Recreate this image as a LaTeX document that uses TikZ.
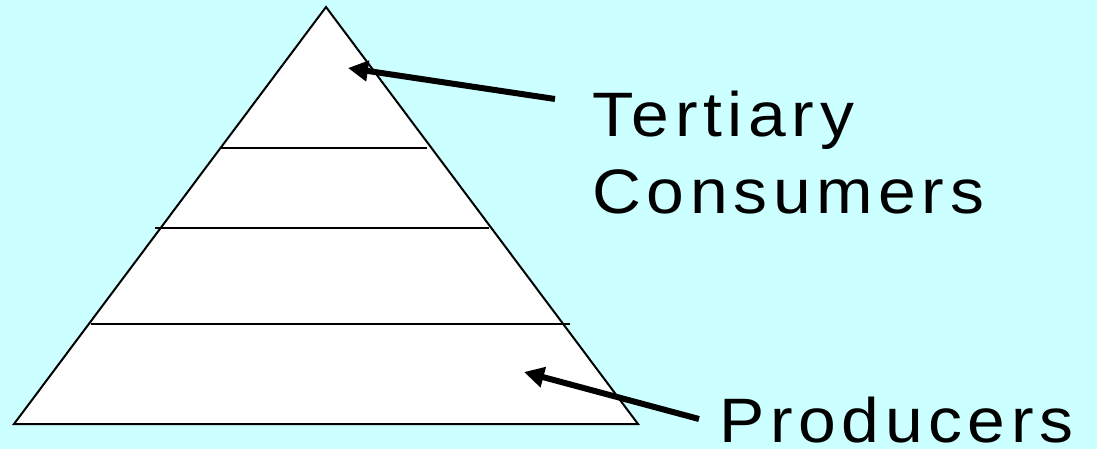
\documentclass[tikz,border=0pt]{standalone}
\usepackage{fontspec}
\setmainfont{Liberation Sans}[FakeStretch=1.08, LetterSpace=9]
\usetikzlibrary{arrows.meta}
\definecolor{skycyan}{HTML}{CCFFFF}
\tikzset{
    level/.style={line width=2pt},
    label/.style={inner sep=0pt, anchor=base west,
        font=\fontsize{62.8}{76}\selectfont},
    pointer/.style={line width=6pt, -{Triangle[length=20pt,width=20pt]}}
}

\begin{document}
\begin{tikzpicture}[x=1pt,y=-1pt]
    \fill[skycyan] (0,0) rectangle (1097,449);
    \useasboundingbox (0,0) rectangle (1097,449);
    % pyramid
    \filldraw[level, fill=white] (326,7) -- (638,424) -- (14,424) -- cycle;
    \draw[level] (220,148) -- (427,148);
    \draw[level] (155,228) -- (489,228);
    \draw[level] (91,324) -- (570,324);
    % labels
    \node[label] (tertiary) at (592,137) {Tertiary};
    \node[label] (consumers) at (592,213) {Consumers};
    \node[label] (producers) at (719,442) {Producers};
    \coordinate (toptail) at (555,99);
    \coordinate (toptip) at (348,68);
    \coordinate (basetail) at (699,419);
    \coordinate (basetip) at (524,372);
    \draw[pointer] (toptail) -- (toptip);
    \draw[pointer] (basetail) -- (basetip);
\end{tikzpicture}
\end{document}
